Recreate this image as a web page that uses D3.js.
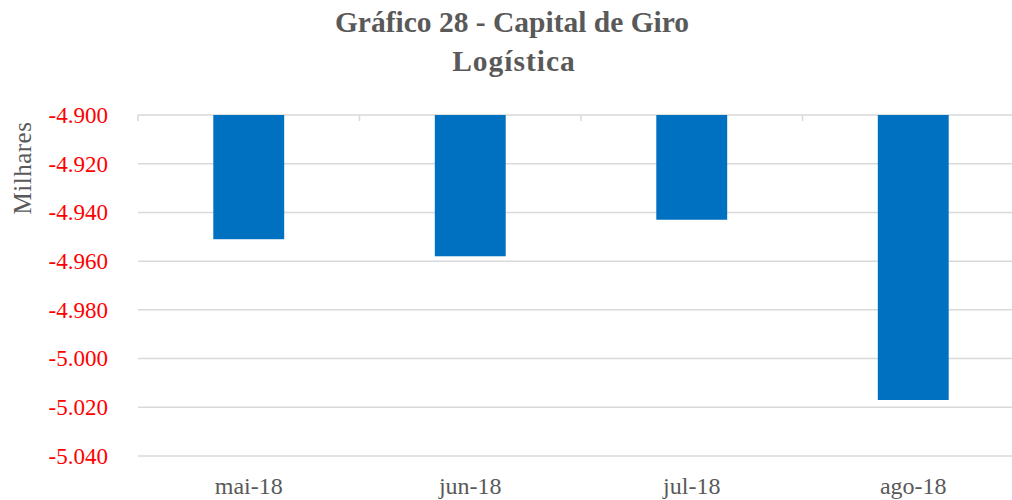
<!DOCTYPE html>
<html>
<head>
<meta charset="utf-8">
<script src="https://cdn.jsdelivr.net/npm/d3@7"></script>
<style>
  body { margin: 0; background: white; }
</style>
</head>
<body>
<script>
// Data
let categories = ['mai-18', 'jun-18', 'jul-18', 'ago-18'];
let values = [-4.951, -4.958, -4.943, -5.017];
let yTicks = [-4.90, -4.92, -4.94, -4.96, -4.98, -5.00, -5.02, -5.04];

let width = 1012,
    height = 500;

let margin = { top: 115, bottom: 44, left: 138, right: -12 };

let svg = d3.select('body')
  .append('svg')
  .attr('width', width)
  .attr('height', height)
  .style('background', 'white');

let fontFam = '"Liberation Serif", "DejaVu Serif", serif';

// Scales
let yScale = d3.scaleLinear()
  .domain([-4.90, -5.04])
  .range([margin.top, height - margin.bottom]);

let xScale = d3.scaleBand()
  .domain(categories)
  .range([margin.left, width - margin.right])
  .paddingInner(0.68)
  .paddingOuter(0.34);

// Gridlines
svg.append('g')
  .selectAll('line')
  .data(yTicks)
  .enter()
  .append('line')
  .attr('x1', margin.left)
  .attr('x2', width - margin.right)
  .attr('y1', d => yScale(d))
  .attr('y2', d => yScale(d))
  .attr('stroke', '#d9d9d9')
  .attr('stroke-width', 1.5);

// Y axis labels
let yAxis = svg.append('g')
  .attr('transform', `translate(${margin.left},0)`)
  .call(d3.axisLeft(yScale)
    .tickValues(yTicks)
    .tickSize(0)
    .tickPadding(30)
    .tickFormat(d => d3.format('.3f')(d).replace('−', '-')));

yAxis.select('.domain').remove();
yAxis.selectAll('text')
  .attr('fill', '#ff0000')
  .style('font-family', fontFam)
  .style('font-size', '23px');

// Category tick marks along the top (axis crosses at -4.900)
let step = xScale.step();
let bounds = d3.range(categories.length + 1).map(i => margin.left + i * step);
svg.append('g')
  .selectAll('line')
  .data(bounds)
  .enter()
  .append('line')
  .attr('x1', d => d)
  .attr('x2', d => d)
  .attr('y1', yScale(-4.90))
  .attr('y2', yScale(-4.90) + 6)
  .attr('stroke', '#d9d9d9')
  .attr('stroke-width', 1.5);

// Bars
svg.selectAll('rect.bar')
  .data(values)
  .enter()
  .append('rect')
  .attr('class', 'bar')
  .attr('x', (d, i) => xScale(categories[i]))
  .attr('y', yScale(-4.90))
  .attr('width', xScale.bandwidth())
  .attr('height', d => yScale(d) - yScale(-4.90))
  .attr('fill', '#0070c0');

// X labels at the bottom
svg.selectAll('.x-label')
  .data(categories)
  .enter()
  .append('text')
  .attr('class', 'x-label')
  .attr('x', d => xScale(d) + xScale.bandwidth() / 2)
  .attr('y', 494)
  .attr('text-anchor', 'middle')
  .style('font-family', fontFam)
  .style('font-size', '24px')
  .attr('fill', '#595959')
  .text(d => d);

// Y axis title
svg.append('text')
  .attr('transform', 'translate(31,168) rotate(-90)')
  .attr('text-anchor', 'middle')
  .style('font-family', fontFam)
  .style('font-size', '25px')
  .style('letter-spacing', '0.5px')
  .attr('fill', '#595959')
  .text('Milhares');

// Title
svg.append('text')
  .attr('x', 512)
  .attr('y', 32)
  .attr('text-anchor', 'middle')
  .style('font-family', fontFam)
  .style('font-size', '29.5px')
  .style('font-weight', 'bold')
  .attr('fill', '#595959')
  .text('Gráfico 28 - Capital de Giro');

svg.append('text')
  .attr('x', 514)
  .attr('y', 71)
  .attr('text-anchor', 'middle')
  .style('font-family', fontFam)
  .style('font-size', '29.5px')
  .style('font-weight', 'bold')
  .style('letter-spacing', '1px')
  .attr('fill', '#595959')
  .text('Logística');
</script>
</body>
</html>
